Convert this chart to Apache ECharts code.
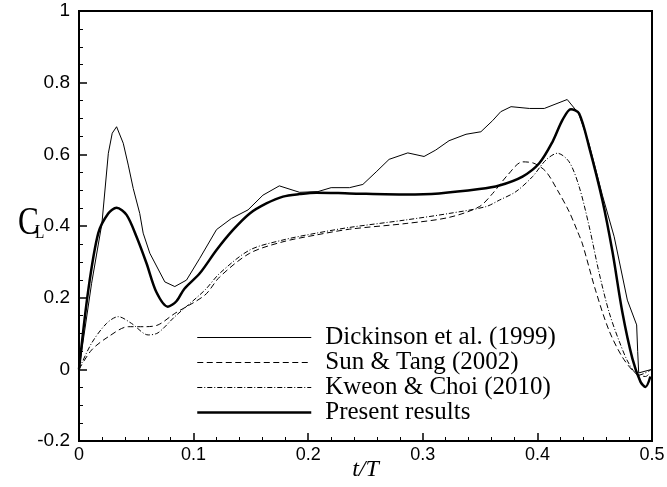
<!DOCTYPE html>
<html>
<head>
<meta charset="utf-8">
<script src="https://cdn.jsdelivr.net/npm/echarts@6/dist/echarts.min.js"></script>
<style>
  html, body { margin: 0; padding: 0; background: #fff; }
  #chart { width: 667px; height: 487px; }
</style>
</head>
<body>
<div id="chart"></div>
<script>
// Lift coefficient over half a stroke cycle (t/T from 0 to 0.5)

const dickinsonT = [0, 0.011, 0.020, 0.0256, 0.029, 0.0328, 0.0386, 0.043, 0.0473, 0.053, 0.056, 0.0618, 0.0749, 0.0836, 0.0938, 0.1054, 0.12, 0.133, 0.1475, 0.1605, 0.1748, 0.1925, 0.2085, 0.22, 0.236, 0.2477, 0.2593, 0.2706, 0.2869, 0.3011, 0.3113, 0.3229, 0.3377, 0.3507, 0.3609, 0.368, 0.377, 0.393, 0.406, 0.426, 0.436, 0.445, 0.4567, 0.467, 0.4785, 0.4866, 0.4875, 0.4884, 0.5];
const dickinsonCL = [0, 0.24, 0.407, 0.603, 0.659, 0.677, 0.631, 0.570, 0.505, 0.435, 0.38, 0.324, 0.244, 0.231, 0.249, 0.31, 0.39, 0.421, 0.445, 0.486, 0.512, 0.494, 0.496, 0.507, 0.507, 0.516, 0.551, 0.586, 0.604, 0.594, 0.612, 0.638, 0.656, 0.663, 0.694, 0.719, 0.733, 0.728, 0.728, 0.753, 0.714, 0.63, 0.486, 0.37, 0.193, 0.124, 0.05, -0.01, 0.0];

const sunTangT = [0, 0.011, 0.0256, 0.043, 0.0575, 0.069, 0.0836, 0.1098, 0.1228, 0.149, 0.178, 0.207, 0.236, 0.2854, 0.3229, 0.3493, 0.361, 0.374, 0.387, 0.397, 0.4074, 0.4175, 0.4277, 0.435, 0.4393, 0.4507, 0.4623, 0.474, 0.4856, 0.4944, 0.4988];
const sunTangCL = [0, 0.054, 0.091, 0.119, 0.119, 0.124, 0.156, 0.207, 0.258, 0.324, 0.356, 0.375, 0.391, 0.407, 0.424, 0.454, 0.491, 0.542, 0.579, 0.575, 0.552, 0.5, 0.44, 0.385, 0.35, 0.221, 0.11, 0.035, -0.011, -0.02, -0.007];

const kweonChoiT = [0, 0.011, 0.024, 0.0342, 0.0459, 0.0604, 0.069, 0.0836, 0.1098, 0.1228, 0.149, 0.178, 0.207, 0.236, 0.2854, 0.3229, 0.355, 0.3667, 0.3813, 0.3958, 0.4074, 0.4175, 0.4277, 0.4364, 0.4451, 0.4538, 0.4625, 0.4712, 0.48, 0.4887, 0.4988];
const kweonChoiCL = [0, 0.073, 0.128, 0.147, 0.128, 0.096, 0.102, 0.147, 0.221, 0.268, 0.333, 0.361, 0.38, 0.396, 0.417, 0.435, 0.454, 0.472, 0.496, 0.538, 0.584, 0.603, 0.579, 0.51, 0.40, 0.27, 0.16, 0.08, 0.015, -0.016, -0.002];

const presentT = [0, 0.0081, 0.0168, 0.0255, 0.0328, 0.0415, 0.0502, 0.0589, 0.0676, 0.0775, 0.085, 0.092, 0.1054, 0.12, 0.1344, 0.149, 0.1635, 0.178, 0.1925, 0.207, 0.236, 0.2854, 0.3142, 0.3493, 0.3667, 0.387, 0.4016, 0.4132, 0.4219, 0.4292, 0.4364, 0.4451, 0.4567, 0.4654, 0.4741, 0.4829, 0.49, 0.4943, 0.4986];
const presentCL = [0, 0.221, 0.38, 0.435, 0.451, 0.431, 0.370, 0.296, 0.215, 0.175, 0.19, 0.225, 0.268, 0.333, 0.389, 0.435, 0.463, 0.482, 0.489, 0.493, 0.491, 0.488, 0.491, 0.503, 0.513, 0.538, 0.575, 0.635, 0.696, 0.726, 0.714, 0.621, 0.472, 0.33, 0.16, 0.03, -0.035, -0.049, -0.02];

const seriesNames = ['Dickinson et al. (1999)', 'Sun & Tang (2002)', 'Kweon & Choi (2010)', 'Present results'];
const xTickLabels = ['0', '0.1', '0.2', '0.3', '0.4', '0.5'];

const pairs = (xs, ys) => xs.map((x, i) => [x, ys[i]]);

const serif = 'Liberation Serif, Times New Roman, serif';
const sans = 'Liberation Sans, Arial, sans-serif';

// line styles shared by each curve and its legend entry
const styles = [
  { color: '#000', width: 1 },
  { color: '#000', width: 1, type: [6, 3.5] },
  { color: '#000', width: 1, type: [5, 2, 1, 2] },
  { color: '#000', width: 2.5 }
];

const chart = echarts.init(document.getElementById('chart'), null, { renderer: 'canvas' });

const axisCommon = {
  axisLine: { show: true, onZero: false, lineStyle: { color: '#000', width: 2 } },
  axisTick: { show: true, inside: true, length: 8, lineStyle: { color: '#000', width: 1.5 } },
  splitLine: { show: false },
  minorSplitLine: { show: false }
};

chart.setOption({
  animation: false,
  backgroundColor: '#fff',
  grid: { left: 79, right: 15, top: 11, bottom: 46, outerBoundsMode: 'none', containLabel: false,
    show: true, borderColor: '#000', borderWidth: 2, backgroundColor: 'transparent' },
  xAxis: Object.assign({}, axisCommon, {
    type: 'value', min: 0, max: 0.5, interval: 0.1,
    minorTick: { show: true, splitNumber: 5, length: 4, lineStyle: { color: '#000', width: 1 } },
    axisLabel: { color: '#000', fontFamily: sans, fontSize: 18, margin: 5,
      formatter: (v) => xTickLabels[Math.round(v * 10)] },
    name: 't/T', nameLocation: 'middle', nameGap: 17, nameMoveOverlap: false,
    nameTextStyle: { color: '#000', fontFamily: serif, fontStyle: 'italic', fontSize: 24 }
  }),
  yAxis: Object.assign({}, axisCommon, {
    type: 'value', min: -0.2, max: 1, interval: 0.2,
    minorTick: { show: true, splitNumber: 4, length: 4, lineStyle: { color: '#000', width: 1 } },
    axisLabel: { color: '#000', fontFamily: sans, fontSize: 19, margin: 9 }
  }),
  legend: {
    orient: 'vertical', left: 191, top: 320,
    itemWidth: 114, itemHeight: 14, itemGap: 0,
    data: seriesNames.map((n, i) => ({ name: n, lineStyle: styles[i] })),
    itemStyle: { opacity: 0 },
    selectedMode: false,
    textStyle: { color: '#000', fontFamily: serif, fontSize: 25, lineHeight: 24, padding: [0, 0, 0, 9] }
  },
  graphic: [
    { type: 'text', x: 18, y: 203, scaleX: 0.78, style: { text: 'C', font: '40px ' + serif, fill: '#000' } },
    { type: 'text', x: 35, y: 224, scaleX: 0.85, style: { text: 'L', font: '18px ' + serif, fill: '#000' } }
  ],
  series: [
    { name: seriesNames[0], type: 'line', data: pairs(dickinsonT, dickinsonCL), symbol: 'none', smooth: false,
      lineStyle: styles[0] },
    { name: seriesNames[1], type: 'line', data: pairs(sunTangT, sunTangCL), symbol: 'none', smooth: 0.3,
      lineStyle: styles[1] },
    { name: seriesNames[2], type: 'line', data: pairs(kweonChoiT, kweonChoiCL), symbol: 'none', smooth: 0.3,
      lineStyle: styles[2] },
    { name: seriesNames[3], type: 'line', data: pairs(presentT, presentCL), symbol: 'none', smooth: 0.3,
      lineStyle: styles[3] }
  ]
});
</script>
</body>
</html>
